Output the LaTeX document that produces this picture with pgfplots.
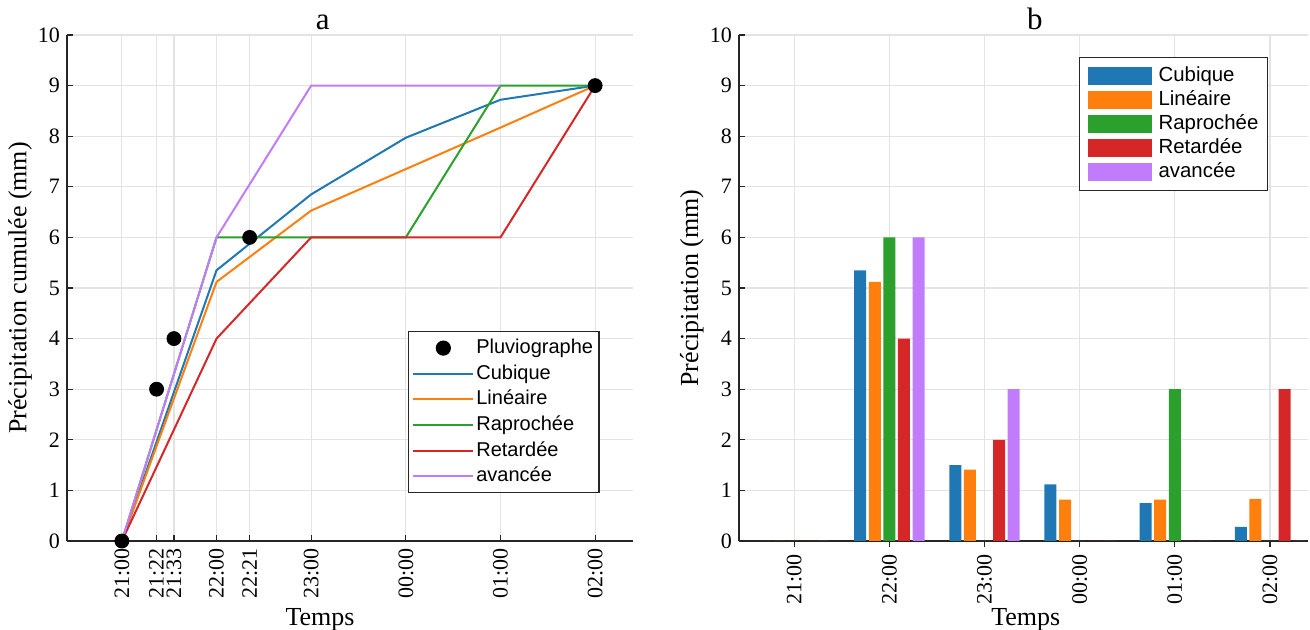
\documentclass[border=0pt]{standalone}
\usepackage{fontspec}
\setmainfont{Liberation Serif}
\newfontfamily\serfont{Liberation Serif}
\newfontfamily\legfont{Liberation Sans}
\usepackage{pgfplots}
\pgfplotsset{compat=1.18}
\definecolor{cB}{RGB}{31,119,180}
\definecolor{cO}{RGB}{255,127,14}
\definecolor{cG}{RGB}{44,160,44}
\definecolor{cR}{RGB}{214,39,40}
\definecolor{cP}{RGB}{192,124,250}
\pgfplotsset{mystyle/.style={
  scale only axis, xmin=-0.58, xmax=5.4, ymin=0, ymax=10, ytick={0,...,10},
  grid=major, grid style={black!11, line width=0.6pt},
  axis x line*=bottom, axis y line*=left,
  axis line style={black!85, line width=0.6pt},
  tick style={black!85, line width=0.6pt}, major tick length=3pt,
  /pgf/number format/assume math mode=true,
  xticklabel style={font=\serfont\fontsize{11}{11}\selectfont, rotate=90, anchor=east},
  yticklabel style={font=\serfont\fontsize{11}{11}\selectfont},
  yticklabel={\serfont\fontsize{11}{11}\selectfont\pgfmathprintnumber{\tick}},
  label style={font=\serfont\fontsize{13}{13}\selectfont},
  every axis title shift=0pt,
  title style={font=\serfont\fontsize{15.5}{15.5}\selectfont, anchor=base, yshift=2.5pt},
  xlabel style={anchor=base, yshift=-42.5pt},
  ylabel style={at={(axis description cs:-0.083,0.5)}, anchor=center},
  legend cell align=left,
}}
\begin{document}
\begin{tikzpicture}
\path[use as bounding box] (0,0) rectangle (655pt,315pt);
\begin{axis}[mystyle, at={(33.5pt,44.5pt)}, anchor=south west,
  width=283pt, height=253pt,
  title={a}, title style={at={(axis description cs:0.452,1)}},
  xlabel={Temps}, xlabel style={at={(axis description cs:0.447,0)}},
  ylabel={Précipitation cumulée (mm)},
  xtick={0,0.3667,0.55,1,1.35,2,3,4,5},
  xticklabels={{\serfont 21:00},{\serfont 21:22},{\serfont 21:33},{\serfont 22:00},{\serfont 22:21},{\serfont 23:00},{\serfont 00:00},{\serfont 01:00},{\serfont 02:00}},
  legend image code/.code={\draw[mark repeat=2,mark phase=2,#1] plot coordinates {(0pt,0pt) (15pt,0pt) (30pt,0pt)};},
  legend style={at={(0.602,0.415)}, anchor=north west, draw=black!85, line width=0.6pt,
    font=\legfont\fontsize{10}{10}\selectfont,
    nodes={inner sep=1pt, text height=8pt, text depth=2.5pt}, row sep=0.3pt, inner xsep=2pt, inner ysep=2pt},
]
\addplot[only marks, mark=*, mark size=3.5pt, black] coordinates {(0,0) (0.3667,3) (0.55,4) (1.35,6) (5,9)};
\addlegendentry{Pluviographe}
\addplot[cB, line width=1pt] coordinates {(0,0) (1,5.35) (2,6.85) (3,7.97) (4,8.72) (5,9)};
\addlegendentry{Cubique}
\addplot[cO, line width=1pt] coordinates {(0,0) (1,5.12) (2,6.53) (3,7.35) (4,8.17) (5,9)};
\addlegendentry{Linéaire}
\addplot[cG, line width=1pt] coordinates {(0,0) (1,6) (2,6) (3,6) (4,9) (5,9)};
\addlegendentry{Raprochée}
\addplot[cR, line width=1pt] coordinates {(0,0) (1,4) (2,6) (3,6) (4,6) (5,9)};
\addlegendentry{Retardée}
\addplot[cP, line width=1pt] coordinates {(0,0) (1,6) (2,9) (3,9) (4,9)};
\addlegendentry{avancée}
\end{axis}
\begin{axis}[mystyle, at={(369.5pt,44.5pt)}, anchor=south west,
  width=284.5pt, height=253pt,
  title={b}, title style={at={(axis description cs:0.520,1)}},
  xlabel={Temps}, xlabel style={at={(axis description cs:0.504,0)}},
  ylabel={Précipitation (mm)},
  ybar=1.3pt, bar width=6pt,
  xtick={0,...,5},
  xticklabels={{\serfont 21:00},{\serfont 22:00},{\serfont 23:00},{\serfont 00:00},{\serfont 01:00},{\serfont 02:00}},
  legend image code/.code={\fill[#1] (0pt,-4.5pt) rectangle (32pt,4.5pt); \path (35pt,0pt);},
  legend style={at={(0.5975,0.9565)}, anchor=north west, draw=black!85, line width=0.6pt,
    font=\legfont\fontsize{10.2}{10.2}\selectfont,
    nodes={inner sep=0.5pt, text height=8pt, text depth=2.5pt}, row sep=0.5pt, inner xsep=4pt, inner ysep=3.5pt},
]
\addplot[fill=cB, draw=none] coordinates {(0,0) (1,5.35) (2,1.5) (3,1.12) (4,0.75) (5,0.28)};
\addlegendentry{Cubique}
\addplot[fill=cO, draw=none] coordinates {(0,0) (1,5.12) (2,1.41) (3,0.82) (4,0.82) (5,0.83)};
\addlegendentry{Linéaire}
\addplot[fill=cG, draw=none] coordinates {(0,0) (1,6) (2,0) (3,0) (4,3) (5,0)};
\addlegendentry{Raprochée}
\addplot[fill=cR, draw=none] coordinates {(0,0) (1,4) (2,2) (3,0) (4,0) (5,3)};
\addlegendentry{Retardée}
\addplot[fill=cP, draw=none] coordinates {(0,0) (1,6) (2,3) (3,0) (4,0) (5,0)};
\addlegendentry{avancée}
\end{axis}
\end{tikzpicture}
\end{document}
